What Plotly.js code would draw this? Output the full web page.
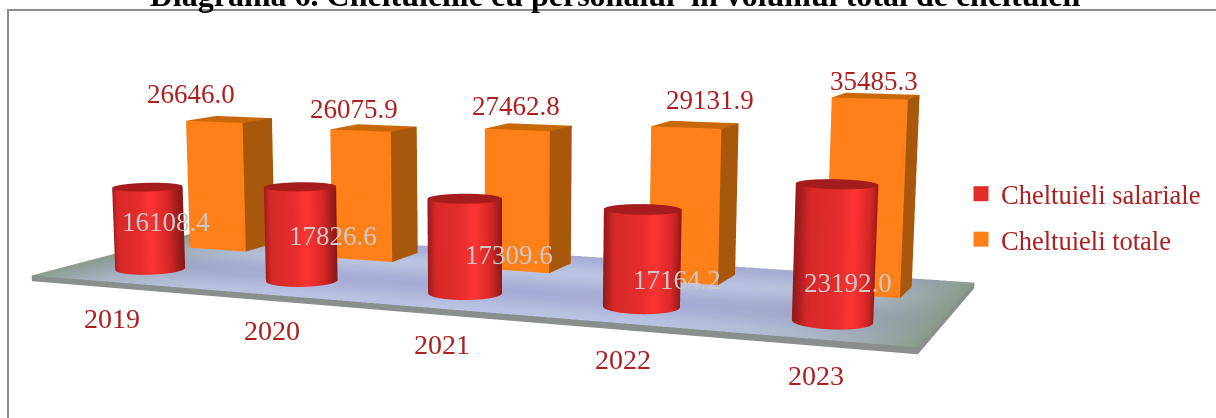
<!DOCTYPE html>
<html><head><meta charset="utf-8">
<script src="https://cdn.plot.ly/plotly-3.0.1.min.js"></script>
<style>html,body{margin:0;padding:0;background:#fff;overflow:hidden;width:1216px;height:418px}
#wrap{position:relative;width:1216px;height:418px;overflow:hidden}
#chart{position:absolute;left:0;top:-471px;width:1216px;height:1500px}</style>
</head><body><div id="wrap"><div id="chart"></div></div>
<script>
const years = ['2019','2020','2021','2022','2023'];
const salariale = [16108.4,17826.6,17309.6,17164.2,23192.0];
const totale = [26646.0,26075.9,27462.8,29131.9,35485.3];
const salarialeName = 'Cheltuieli salariale';
const totaleName = 'Cheltuieli totale';

const H = 1500, top0 = 471;
const py = p => 1-(p+top0)/H;
const depth = 1.83, frontRow = 0.45, backRow = 1.38, zMax = 40000;
const radius = 0.2, boxW = 0.4, boxD = 0.36;
const zPerCat = zMax/1.19;
// nudges of the data labels, in pixels
const yearShiftX=[5,9,11,10,5], yearShiftY=[-3,-1.5,0,1.5,3];
const totalShiftX=[-38,-20,-13,14,-3], totalShiftY=[9,1.5,3,6.5,-4];
const salShiftX=[2,16,27,16,-7], salShiftY=[7,-1.5,-8,-20.5,-29];

function lerp(a,b,t){return a.map((v,i)=>v+(b[i]-v)*t);}
function rgb(c){return 'rgb('+c.map(Math.round).join(',')+')';}
function ramp(stops,t){
  for(let i=1;i<stops.length;i++){ if(t<=stops[i][0]){
    return lerp(stops[i-1][1],stops[i][1],(t-stops[i-1][0])/(stops[i][0]-stops[i-1][0]));}}
  return stops[stops.length-1][1];
}
const sideStops=[[0,[150,26,26]],[0.12,[215,40,40]],[0.45,[228,44,44]],[0.62,[255,52,52]],[0.85,[215,38,38]],[1,[140,24,24]]];
function mesh(x,y,z,i,j,k,c,name){
  return {type:'mesh3d',x,y,z,i,j,k,vertexcolor:c,name,showlegend:false,hoverinfo:'skip',showscale:false,
    lighting:{ambient:1,diffuse:0,specular:0,roughness:1,fresnel:0},flatshading:true};
}
function cylinder(cx,cy,h,name){
  const n=56,X=[],Y=[],Z=[],C=[],I=[],J=[],K=[];
  const az=Math.atan2(0.3767,0.9094);
  for(let s=0;s<n;s++){
    const a=2*Math.PI*s/n, dx=Math.cos(a)*radius, dy=Math.sin(a)*radius;
    const t=Math.max(0,Math.min(1,(Math.cos(a-az)+1)/2));
    const c=rgb(ramp(sideStops,t));
    X.push(cx+dx,cx+dx);Y.push(cy+dy,cy+dy);Z.push(0,h);C.push(c,c);
    const b=2*s,nb=2*((s+1)%n);
    I.push(b,b+1);J.push(nb,nb);K.push(b+1,nb+1);
  }
  const base=X.length;
  for(let s=0;s<n;s++){const a=2*Math.PI*s/n;X.push(cx+Math.cos(a)*radius);Y.push(cy+Math.sin(a)*radius);Z.push(h);C.push('rgb(165,28,28)');}
  X.push(cx);Y.push(cy);Z.push(h);C.push('rgb(165,28,28)');
  const ctr=X.length-1;
  for(let s=0;s<n;s++){I.push(ctr);J.push(base+s);K.push(base+(s+1)%n);}
  return mesh(X,Y,Z,I,J,K,C,name);
}
function box(x0,x1,y0,y1,z0,z1,cols,name){
  const X=[],Y=[],Z=[],C=[],I=[],J=[],K=[];
  const faces=[
   [[x0,y0,z0],[x1,y0,z0],[x1,y0,z1],[x0,y0,z1]],
   [[x1,y0,z0],[x1,y1,z0],[x1,y1,z1],[x1,y0,z1]],
   [[x0,y0,z1],[x1,y0,z1],[x1,y1,z1],[x0,y1,z1]],
   [[x0,y1,z0],[x1,y1,z0],[x1,y1,z1],[x0,y1,z1]],
   [[x0,y0,z0],[x0,y1,z0],[x0,y1,z1],[x0,y0,z1]],
   [[x0,y0,z0],[x1,y0,z0],[x1,y1,z0],[x0,y1,z0]]];
  faces.forEach((f,n)=>{const b=X.length;f.forEach(p=>{X.push(p[0]);Y.push(p[1]);Z.push(p[2]);C.push(cols[n]);});
    I.push(b,b);J.push(b+1,b+2);K.push(b+2,b+3);});
  return mesh(X,Y,Z,I,J,K,C,name);
}
function floor(){
  const nx=40,ny=12,X=[],Y=[],Z=[],C=[],I=[],J=[],K=[];
  for(let a=0;a<=nx;a++)for(let b=0;b<=ny;b++){
    const u=a/nx,v=b/ny;X.push(-0.5+5*u);Y.push(depth*v);Z.push(0);
    const e=Math.abs(u-0.5)*2;
    const band=0.5+0.5*Math.cos(v*Math.PI*3);
    let col=lerp([166,172,214],[186,196,226],band);
    col=lerp(col,[138,155,140],Math.pow(e,5));
    C.push(rgb(col));
    if(a<nx&&b<ny){const p=a*(ny+1)+b,q=p+ny+1;I.push(p,p);J.push(q,q+1);K.push(q+1,p+1);}
  }
  return mesh(X,Y,Z,I,J,K,C,'floor');
}
const orangeFaces=['rgb(255,128,24)','rgb(168,88,12)','rgb(200,104,10)','rgb(255,128,24)','rgb(168,88,12)','rgb(255,128,24)'];
const grey='rgb(138,142,140)';
const traces=[];
traces.push(box(-0.5,4.5,0,depth,-1100,-40,[grey,grey,grey,grey,grey,grey],'floor edge'));
traces.push(floor());
years.forEach((y,n)=>{
  traces.push(box(n-boxW/2,n+boxW/2,backRow-boxD/2,backRow+boxD/2,0,totale[n],orangeFaces,totaleName));
  traces.push(cylinder(n,frontRow,salariale[n],salarialeName));
});
traces.push({type:'scatter3d',mode:'markers',x:[0],y:[frontRow],z:[1000],name:salarialeName,legendgroup:'a',showlegend:true,hoverinfo:'skip',marker:{symbol:'square',size:15,color:'#e12d27'}});
traces.push({type:'scatter3d',mode:'markers',x:[0],y:[backRow],z:[1000],name:totaleName,legendgroup:'b',showlegend:true,hoverinfo:'skip',marker:{symbol:'square',size:15,color:'#ff8018'}});

const red='#ad2020', serif='"Liberation Serif","Times New Roman",serif';
const ann=[];
years.forEach((y,n)=>{
  ann.push({x:n,y:0,z:-6500,text:y,xshift:yearShiftX[n],yshift:yearShiftY[n],showarrow:false,font:{family:serif,size:28,color:red}});
  ann.push({x:n,y:backRow,z:totale[n]+3500,text:totale[n].toFixed(1),xshift:totalShiftX[n],yshift:totalShiftY[n],showarrow:false,font:{family:serif,size:27,color:red}});
  ann.push({x:n+0.1,y:frontRow,z:salariale[n]*0.5,text:salariale[n].toFixed(1),xshift:salShiftX[n],yshift:salShiftY[n],showarrow:false,font:{family:serif,size:27,color:'#c9c9c9'}});
});
const noAxis={visible:false,showgrid:false,zeroline:false,showticklabels:false,showspikes:false};
const layout={
  width:1216,height:H,paper_bgcolor:'#fff',margin:{l:0,r:0,t:0,b:0},
  title:{text:'Diagrama 6. Cheltuielile cu personalul\u00a0 în volumul total de cheltuieli',x:615/1216,xanchor:'center',y:py(-5),yanchor:'middle',font:{family:serif,size:32,color:'#000',weight:'bold'}},
  shapes:[{type:'rect',xref:'paper',yref:'paper',x0:8/1216,x1:1.01,y0:py(440),y1:py(10),line:{color:'#8c8c8c',width:2},fillcolor:'rgba(0,0,0,0)',layer:'below'}],
  legend:{x:961/1216,y:py(170),xanchor:'left',yanchor:'top',font:{family:serif,size:26.5,color:red},bgcolor:'rgba(0,0,0,0)',tracegroupgap:8,itemwidth:30},
  scene:{domain:{x:[0,996/1216],y:[0,1]},bgcolor:'rgba(0,0,0,0)',
    xaxis:Object.assign({range:[-0.6,4.6]},noAxis),yaxis:Object.assign({range:[0,depth]},noAxis),zaxis:Object.assign({range:[-8000,zMax]},noAxis),
    aspectmode:'manual',aspectratio:{x:5.2,y:depth,z:48000/zPerCat},
    camera:{eye:{x:3.85,y:-9.29,z:1.334},center:{x:0,y:0,z:-0.476},up:{x:0,y:0,z:1}},
    annotations:ann}
};
Plotly.newPlot('chart',traces,layout,{displayModeBar:false});
</script></body></html>
